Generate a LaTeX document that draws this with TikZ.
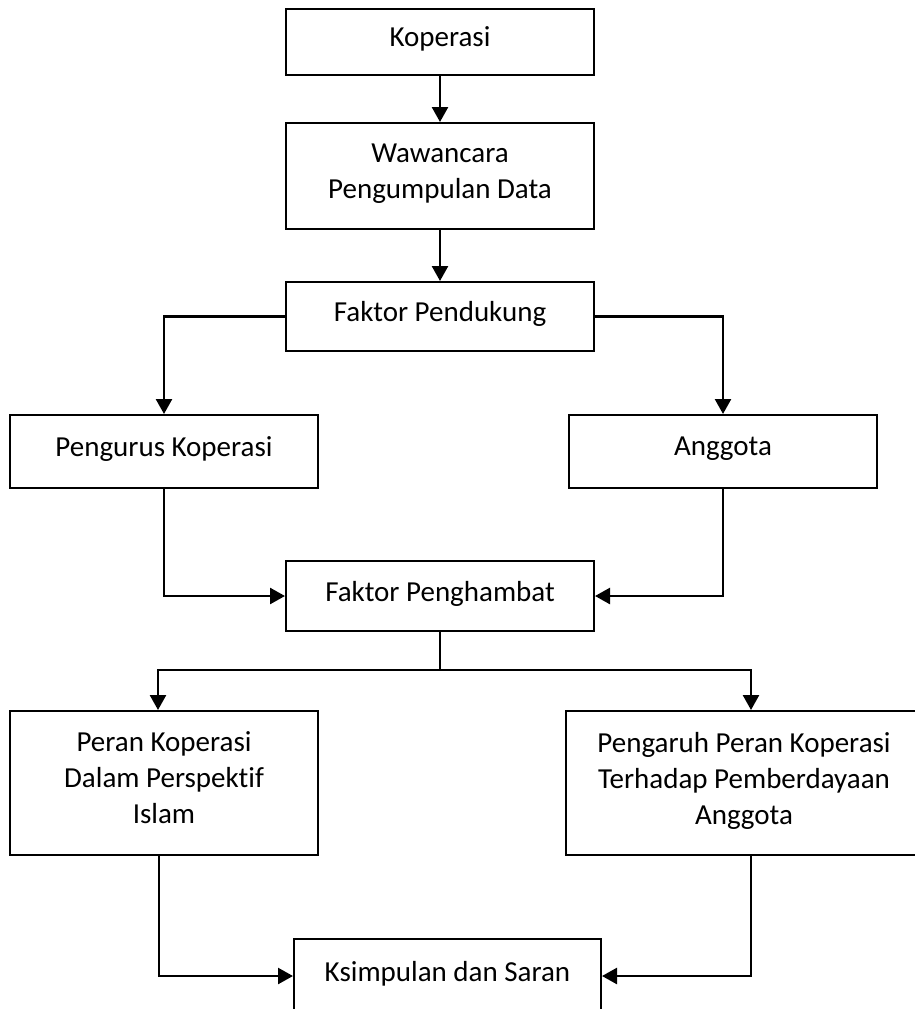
\documentclass[tikz,border=0pt]{standalone}
\usepackage{fontspec}
\setmainfont[Ligatures=NoCommon]{Carlito}
\usetikzlibrary{calc}
\usetikzlibrary{arrows.meta}
\tikzstyle{flowbox}=[draw,line width=2pt,minimum width=308pt,inner sep=0pt,align=center,text depth=10pt,font=\fontsize{29}{36}\selectfont]
\tikzstyle{flowline}=[line width=2.5pt]
\tikzstyle{flowarrow}=[flowline,-{Triangle[length=15pt,width=16pt]}]
\begin{document}
\begin{tikzpicture}[x=1pt,y=-1pt]
	\useasboundingbox (0,0) rectangle (915,1009);
	% boxes, top to bottom
	\node[flowbox,minimum height=66pt] (koperasi) at (440,42) {Koperasi};
	\node[flowbox,minimum height=106pt] (wawancara) at (440,176) {Wawancara\\Pengumpulan Data};
	\node[flowbox,minimum height=69pt] (pendukung) at (440,316.5) {Faktor Pendukung};
	\node[flowbox,minimum height=73pt] (pengurus) at (164,451.5) {Pengurus Koperasi};
	\node[flowbox,minimum height=73pt] (anggota) at (723,451.5) {Anggota};
	\node[flowbox,minimum height=70pt] (penghambat) at (440,596) {Faktor Penghambat};
	\node[flowbox,minimum height=144pt] (peran) at (164,783) {Peran Koperasi\\Dalam Perspektif\\Islam};
	\node[flowbox,minimum height=144pt,minimum width=356pt] (pengaruh) at (744,783) {Pengaruh Peran Koperasi\\Terhadap Pemberdayaan\\Anggota};
	\node[flowbox,minimum height=74pt,minimum width=307pt] (kesimpulan) at (447.5,976) {Ksimpulan dan Saran};
	% connectors
	\draw[flowarrow] (koperasi) -- (wawancara);
	\draw[flowarrow] (wawancara) -- (pendukung);
	\draw[flowarrow] (pendukung.west) -| (pengurus.north);
	\draw[flowarrow] (pendukung.east) -| (anggota.north);
	\draw[flowarrow] (pengurus.south) |- (penghambat.west);
	\draw[flowarrow] (anggota.south) |- (penghambat.east);
	\draw[flowline] (penghambat.south) -- ++(0,38) coordinate (split);
	\draw[flowarrow] (split) -| ($(peran.north)+(-6,0)$);
	\draw[flowarrow] (split) -| ($(pengaruh.north)+(7,0)$);
	\draw[flowarrow] ($(peran.south)+(-5,0)$) |- (kesimpulan.west);
	\draw[flowarrow] ($(pengaruh.south)+(7,0)$) |- (kesimpulan.east);
\end{tikzpicture}
\end{document}
